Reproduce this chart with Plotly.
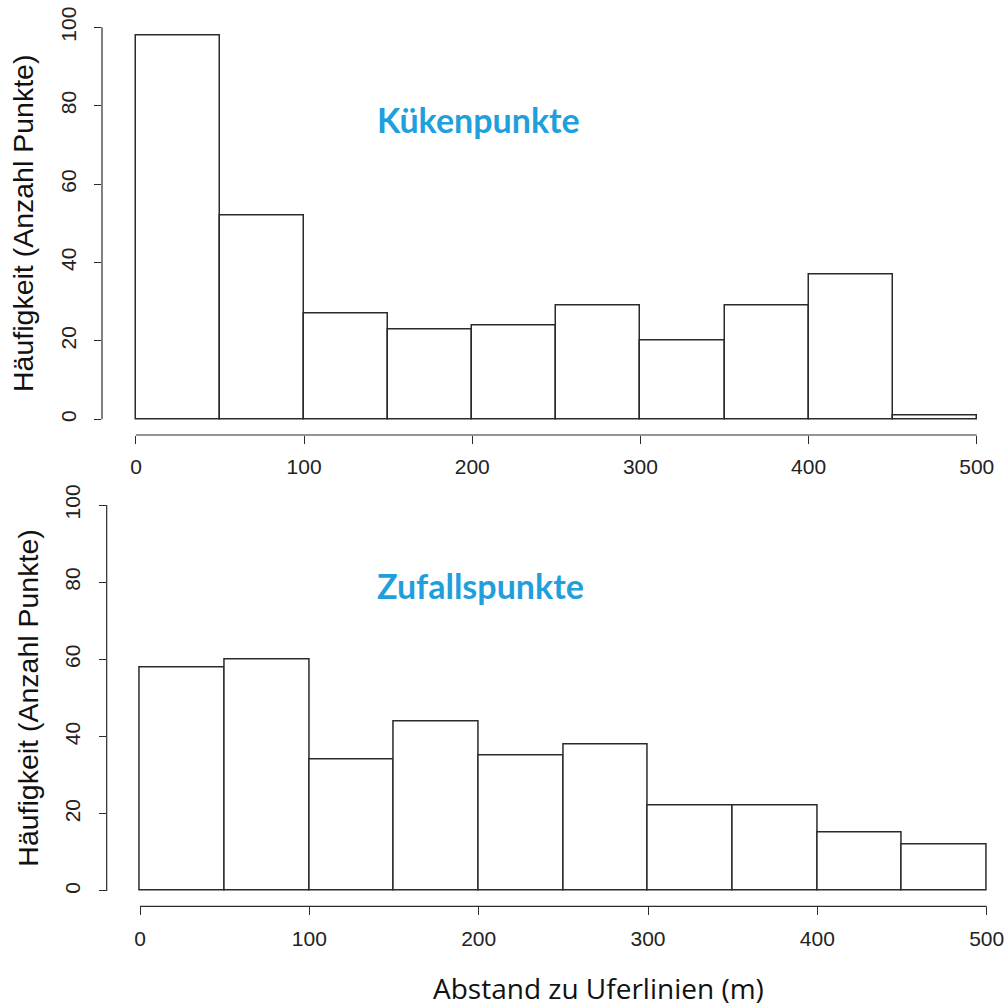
import plotly.graph_objects as go

W = 1007
bin_edges = [0, 50, 100, 150, 200, 250, 300, 350, 400, 450, 500]
kueken_counts = [98, 52, 27, 23, 24, 29, 20, 29, 37, 1]
zufall_counts = [58, 60, 34, 44, 35, 38, 22, 22, 15, 12]
x_ticks = [0, 100, 200, 300, 400, 500]
y_ticks = [0, 20, 40, 60, 80, 100]
panel_titles = ["Kükenpunkte", "Zufallspunkte"]
y_title = "Häufigkeit (Anzahl Punkte)"
x_title = "Abstand zu Uferlinien (m)"

line_col = "#2a2a2a"
title_col = "#1fa0dc"
tick_font = dict(family="Liberation Sans, Arial, sans-serif", size=21, color="#222")

centers = [(a + b) / 2 for a, b in zip(bin_edges[:-1], bin_edges[1:])]
widths = [b - a for a, b in zip(bin_edges[:-1], bin_edges[1:])]

fig = go.Figure()
for i, counts in enumerate([kueken_counts, zufall_counts]):
    sfx = "" if i == 0 else "2"
    fig.add_trace(go.Bar(
        x=centers, y=counts, width=widths,
        marker=dict(color="white", line=dict(color=line_col, width=1.5)),
        xaxis="x" + sfx, yaxis="y" + sfx, showlegend=False, hoverinfo="x+y",
    ))

def px_x(p):
    return p / W

def px_y(p):
    return 1 - p / W

# panel geometry (pixels)
panels = [
    dict(left=102, bottom=435, top=11.6, xr=[-20.2, 518], yr=[-4, 104]),
    dict(left=106.7, bottom=906.4, top=489.6, xr=[-19.7, 512], yr=[-4, 104]),
]

layout = dict(
    width=W, height=W, margin=dict(l=0, r=0, t=0, b=0),
    paper_bgcolor="white", plot_bgcolor="white", bargap=0,
)
for i, p in enumerate(panels):
    sfx = "" if i == 0 else "2"
    layout["xaxis" + sfx] = dict(
        domain=[px_x(p["left"]), 1.0], range=p["xr"], anchor="y" + sfx,
        tickvals=x_ticks, ticks="outside", ticklen=8, tickwidth=1.2, tickcolor=line_col,
        showgrid=False, zeroline=False, showline=False, tickfont=tick_font,
        ticklabelstandoff=5, automargin=False,
    )
    layout["yaxis" + sfx] = dict(
        domain=[px_y(p["bottom"]), px_y(p["top"])], range=p["yr"], anchor="x" + sfx,
        tickvals=y_ticks, ticks="outside", ticklen=7, tickwidth=1.2, tickcolor=line_col,
        showgrid=False, zeroline=False, showline=False, tickfont=tick_font,
        tickangle=-90, ticklabelstandoff=10, automargin=False,
        title=dict(text=y_title, font=dict(family="Liberation Sans, Arial, sans-serif", size=28.5, color="#111"), standoff=14),
    )
fig.update_layout(**layout)

# R-style axis lines spanning only the tick range
for i in range(2):
    sfx = "" if i == 0 else "2"
    fig.add_shape(type="line", xref="x" + sfx, yref="y" + sfx + " domain",
                  x0=min(x_ticks), x1=max(x_ticks), y0=0, y1=0,
                  line=dict(color=line_col, width=1.2))
    fig.add_shape(type="line", xref="x" + sfx + " domain", yref="y" + sfx,
                  x0=0, x1=0, y0=min(y_ticks), y1=max(y_ticks),
                  line=dict(color=line_col, width=1.2))

# panel labels
fig.add_annotation(text="<b>" + panel_titles[0] + "</b>", xref="paper", yref="paper",
                   x=px_x(478), y=px_y(119), xanchor="center", yanchor="middle", showarrow=False,
                   font=dict(family="Lato, Open Sans, sans-serif", size=34, color=title_col))
fig.add_annotation(text="<b>" + panel_titles[1] + "</b>", xref="paper", yref="paper",
                   x=px_x(480), y=px_y(585), xanchor="center", yanchor="middle", showarrow=False,
                   font=dict(family="Lato, Open Sans, sans-serif", size=34, color=title_col))
fig.add_annotation(text=x_title, xref="paper", yref="paper",
                   x=px_x(598), y=px_y(988), xanchor="center", yanchor="middle", showarrow=False,
                   font=dict(family="Open Sans, sans-serif", size=28, color="#111"))

fig.write_html("out.html")
